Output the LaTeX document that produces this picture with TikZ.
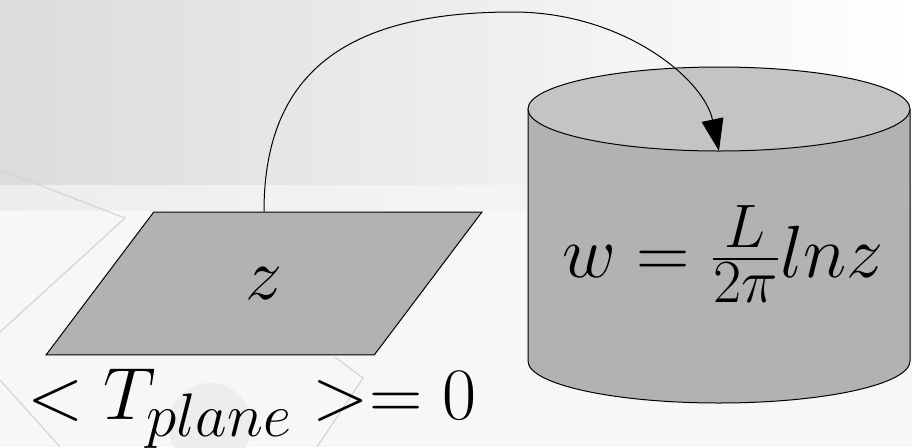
\RequirePackage{fix-cm}
\documentclass[tikz,border=0pt]{standalone}
\usepackage{amsmath}
\usetikzlibrary{arrows.meta, positioning, shapes.geometric}

\DeclareMathSizes{37}{37}{30.7}{25.7}

\begin{document}
\begin{tikzpicture}[
  x=0.5pt, y=0.5pt,
  node distance=10pt,
  bigmath/.style={font=\fontsize{37}{44}\selectfont},
  plane/.style={draw, trapezium, trapezium left angle=53, trapezium right angle=127,
                fill=black!30, inner xsep=45.9pt, inner ysep=27.75pt, line width=0.5pt,
                bigmath},
  body/.style={fill=black!30},
  lid/.style={draw, fill=black!23, line width=0.5pt},
  faint/.style={draw=black!17, line width=0.6pt},
  conn/.style={-{Triangle[length=16pt, width=11pt]}, line width=0.5pt}
]
% background
\useasboundingbox (0,0) rectangle (912,447);
\fill[black!3] (0,0) rectangle (912,447);
\fill[left color=black!14, right color=white] (0,447) rectangle (912,262);
\fill[left color=black!7, right color=black!2] (0,262) rectangle (912,237);
\fill[black!7] (210,22) circle[radius=21pt];
\draw[faint] (0,277) -- (125,229) -- (0,115);
\draw[faint] (0,67) -- (60,0);
\draw[faint] (335,90) -- (363,69) -- (317,0);

% z-plane
\node[plane] (plane) at (264,163.5) {$z$};
\node[bigmath, below=3pt of plane, xshift=-6pt] (tmean) {$<T_{plane}>=0$};

% cylinder
\fill[body] (528,338) -- (528,86) arc[start angle=180, end angle=360, x radius=95.5pt, y radius=21pt]
  -- (910,338) -- cycle;
\draw[line width=0.5pt] (528,338) -- (528,86) arc[start angle=180, end angle=360, x radius=95.5pt, y radius=21pt]
  -- (910,338);
\draw[lid] (719,338) ellipse[x radius=95.5pt, y radius=21pt];
\node[bigmath, anchor=base] (map) at (723,170) {$w=\frac{L}{2\pi}lnz$};
\coordinate (rim) at (719,296);
\coordinate (apex) at (513,435);

\draw[conn] (plane.north) .. controls +(0,142) and +(-163,0) .. (apex)
  .. controls +(110,0) and +(-15,72) .. (rim);
\end{tikzpicture}
\end{document}
